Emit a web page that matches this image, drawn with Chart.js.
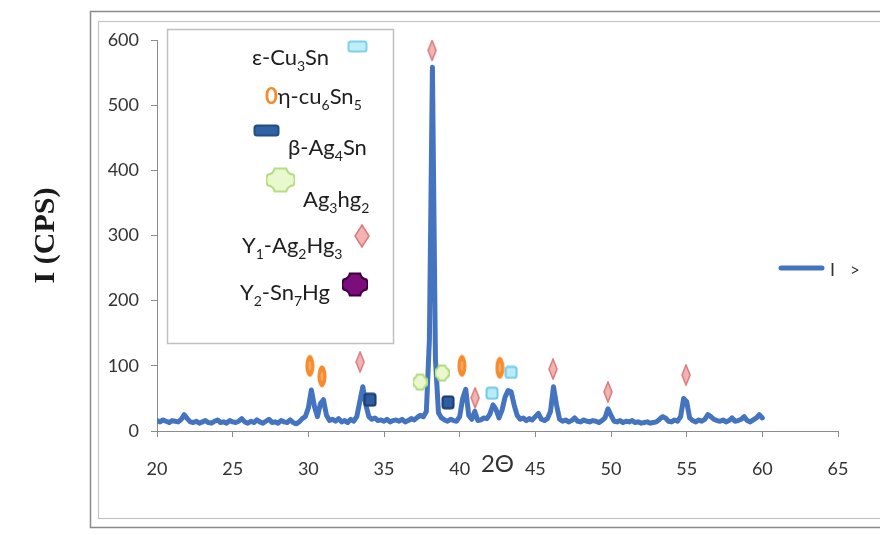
<!DOCTYPE html>
<html>
<head>
<meta charset="utf-8">
<script src="https://cdn.jsdelivr.net/npm/chart.js@4.4.1/dist/chart.umd.min.js"></script>
<style>
  html, body { margin: 0; padding: 0; background: #fff; }
  #wrap { width: 880px; height: 535px; }
</style>
</head>
<body>
<div id="wrap"><canvas id="xrd" width="880" height="535"></canvas></div>
<script>
// 2-theta positions and measured intensity (CPS)
const twoTheta = [
  20.0, 20.2, 20.4, 20.6, 20.8, 21.0, 21.2, 21.4, 21.6, 21.8,
  22.0, 22.2, 22.4, 22.6, 22.8, 23.0, 23.2, 23.4, 23.6, 23.8,
  24.0, 24.2, 24.4, 24.6, 24.8, 25.0, 25.2, 25.4, 25.6, 25.8,
  26.0, 26.2, 26.4, 26.6, 26.8, 27.0, 27.2, 27.4, 27.6, 27.8,
  28.0, 28.2, 28.4, 28.6, 28.8, 29.0, 29.2, 29.4, 29.6, 29.8,
  30.0, 30.2, 30.4, 30.6, 30.8, 31.0, 31.2, 31.4, 31.6, 31.8,
  32.0, 32.2, 32.4, 32.6, 32.8, 33.0, 33.2, 33.4, 33.6, 33.8,
  34.0, 34.2, 34.4, 34.6, 34.8, 35.0, 35.2, 35.4, 35.6, 35.8,
  36.0, 36.2, 36.4, 36.6, 36.8, 37.0, 37.2, 37.4, 37.6, 37.8,
  38.0, 38.2, 38.4, 38.6, 38.8, 39.0, 39.2, 39.4, 39.6, 39.8,
  40.0, 40.2, 40.4, 40.6, 40.8, 41.0, 41.2, 41.4, 41.6, 41.8,
  42.0, 42.2, 42.4, 42.6, 42.8, 43.0, 43.2, 43.4, 43.6, 43.8,
  44.0, 44.2, 44.4, 44.6, 44.8, 45.0, 45.2, 45.4, 45.6, 45.8,
  46.0, 46.2, 46.4, 46.6, 46.8, 47.0, 47.2, 47.4, 47.6, 47.8,
  48.0, 48.2, 48.4, 48.6, 48.8, 49.0, 49.2, 49.4, 49.6, 49.8,
  50.0, 50.2, 50.4, 50.6, 50.8, 51.0, 51.2, 51.4, 51.6, 51.8,
  52.0, 52.2, 52.4, 52.6, 52.8, 53.0, 53.2, 53.4, 53.6, 53.8,
  54.0, 54.2, 54.4, 54.6, 54.8, 55.0, 55.2, 55.4, 55.6, 55.8,
  56.0, 56.2, 56.4, 56.6, 56.8, 57.0, 57.2, 57.4, 57.6, 57.8,
  58.0, 58.2, 58.4, 58.6, 58.8, 59.0, 59.2, 59.4, 59.6, 59.8,
  60.0
];
const intensity = [
  16, 14, 17, 15, 13, 16, 15, 14, 18, 25,
  19, 14, 13, 15, 12, 14, 16, 13, 12, 15,
  17, 13, 14, 12, 16, 14, 13, 15, 19, 14,
  12, 15, 13, 17, 14, 12, 15, 18, 13, 14,
  12, 16, 14, 13, 17, 13, 11, 14, 19, 22,
  35, 63, 38, 22, 42, 48, 24, 16, 18, 15,
  19, 14, 16, 13, 18, 15, 22, 45, 68, 40,
  22, 18, 20, 16, 17, 15, 18, 14, 16, 17,
  15, 18, 14, 16, 19, 17, 21, 24, 22, 30,
  140, 558, 110, 28, 20, 17, 15, 18, 16, 15,
  22, 50, 64, 24, 18, 30, 16, 17, 20, 19,
  26, 40, 33, 20, 32, 52, 62, 60, 40, 24,
  18, 20, 16, 19, 17, 22, 27, 18, 16, 19,
  30, 68, 40, 18, 15, 17, 14, 16, 20, 15,
  14, 17, 15, 14, 16, 15, 13, 16, 20, 34,
  24, 15, 14, 16, 13, 15, 14, 16, 13, 14,
  12, 13, 14, 12, 13, 14, 18, 22, 20, 15,
  14, 17, 15, 22, 50, 45, 20, 16, 14, 17,
  15, 18, 25, 22, 18, 16, 15, 17, 14, 16,
  20, 15, 16, 18, 22, 16, 14, 17, 20, 25,
  20
];

// phase markers placed above peaks
const etaX = [30.1, 30.9, 40.15, 42.65];     // η-Cu6Sn5
const etaY = [100, 84, 100, 97];
const gamma1X = [33.42, 38.18, 41.02, 46.17, 49.8, 54.96];  // γ1-Ag2Hg3
const gamma1Y = [106, 584, 51, 95, 60, 86];
const epsX = [42.14, 43.4];                   // ε-Cu3Sn
const epsY = [58, 90];
const betaX = [34.08, 39.23];                 // β-Ag4Sn
const betaY = [48, 44];
const ag3X = [37.38, 38.84];                  // Ag3Hg2
const ag3Y = [75, 89];

const xTicks = [20, 25, 30, 35, 40, 45, 50, 55, 60, 65];
const yTicks = [0, 100, 200, 300, 400, 500, 600];

const FONT = 'Lato, "Open Sans", sans-serif';
const LINE_BLUE = '#4474c0';

function zip(xs, ys) {
  return xs.map((x, i) => ({ x: x, y: ys[i] }));
}

// little canvases used as point styles
function makeSymbol(w, h, drawFn) {
  const c = document.createElement('canvas');
  c.width = w;
  c.height = h;
  drawFn(c.getContext('2d'), w, h);
  return c;
}

function ellipseSym(w, h) {
  return makeSymbol(w, h, (g, W, H) => {
    g.beginPath();
    g.ellipse(W / 2, H / 2, W / 2 - 0.5, H / 2 - 0.5, 0, 0, Math.PI * 2);
    g.fillStyle = '#f58b2c';
    g.fill();
    g.beginPath();
    g.ellipse(W / 2, H / 2, W / 7, H / 5, 0, 0, Math.PI * 2);
    g.fillStyle = '#f9a862';
    g.fill();
  });
}

function diamondSym(w, h) {
  return makeSymbol(w, h, (g, W, H) => {
    g.beginPath();
    g.moveTo(W / 2, 1);
    g.lineTo(W - 1, H / 2);
    g.lineTo(W / 2, H - 1);
    g.lineTo(1, H / 2);
    g.closePath();
    g.fillStyle = '#f4b3b3';
    g.fill();
    g.lineWidth = 1.5;
    g.strokeStyle = '#d87b7b';
    g.stroke();
  });
}

function boxSym(w, h, fill, stroke) {
  return makeSymbol(w, h, (g, W, H) => {
    g.beginPath();
    g.roundRect(1.5, 1.5, W - 3, H - 3, 2.5);
    g.fillStyle = fill;
    g.fill();
    g.lineWidth = 2;
    g.strokeStyle = stroke;
    g.stroke();
  });
}

function crossSym(w, h, fill, stroke) {
  return makeSymbol(w, h, (g, W, H) => {
    const a = W * 0.3, b = H * 0.3;
    g.beginPath();
    g.moveTo(a, 1.5);
    g.lineTo(W - a, 1.5);
    g.quadraticCurveTo(W - a + 1, b - 1, W - 1.5, b);
    g.quadraticCurveTo(W + 1, H / 2, W - 1.5, H - b);
    g.quadraticCurveTo(W - a + 1, H - b + 1, W - a, H - 1.5);
    g.lineTo(a, H - 1.5);
    g.quadraticCurveTo(a - 1, H - b + 1, 1.5, H - b);
    g.quadraticCurveTo(-1, H / 2, 1.5, b);
    g.quadraticCurveTo(a - 1, b - 1, a, 1.5);
    g.closePath();
    g.fillStyle = fill;
    g.fill();
    g.lineWidth = 2;
    g.strokeStyle = stroke;
    g.stroke();
  });
}

const symEta = ellipseSym(10, 23);
const symGamma1 = diamondSym(10, 22);
const symEps = boxSym(14, 14, '#b9ecf8', '#72cbe6');
const symBeta = boxSym(14, 15, '#2d5e9f', '#1e3c6a');
const symAg3 = crossSym(15, 18, '#e9f8cd', '#aedc7c');

// rich text helpers for the phase key (subscripts)
const MAIN_FONT = '22px ' + FONT;
const SUB_FONT = '14px ' + FONT;

function drawRich(ctx, parts, x, y) {
  for (const [t, sub, color, font] of parts) {
    ctx.font = font || (sub ? SUB_FONT : MAIN_FONT);
    ctx.fillStyle = color || '#1e1e1e';
    ctx.fillText(t, x, sub ? y + 6 : y);
    x += ctx.measureText(t).width;
  }
}

const decor = {
  id: 'decor',
  beforeDraw(chart) {
    const ctx = chart.ctx;
    ctx.save();
    ctx.fillStyle = '#fff';
    ctx.fillRect(0, 0, chart.width, chart.height);
    // double frame around the figure
    ctx.strokeStyle = '#8a8a8a';
    ctx.lineWidth = 1.5;
    ctx.strokeRect(90.5, 11.5, 820, 516);
    ctx.strokeStyle = '#c4c4c4';
    ctx.lineWidth = 1.2;
    ctx.strokeRect(98.5, 21.5, 800, 497);
    ctx.restore();
  },
  afterDraw(chart) {
    const ctx = chart.ctx;
    ctx.save();
    // phase key box
    ctx.fillStyle = '#fff';
    ctx.fillRect(167, 29, 226, 314);
    ctx.strokeStyle = '#c0c0c0';
    ctx.lineWidth = 1.5;
    ctx.strokeRect(167.5, 29.5, 226, 314);
    ctx.textBaseline = 'alphabetic';
    ctx.textAlign = 'left';

    drawRich(ctx, [['ε-Cu'], ['3', true], ['Sn']], 252, 65);
    ctx.drawImage(boxSym(21, 13, '#bdeefa', '#7fd0e8'), 347, 40);

    drawRich(ctx, [['0', false, '#f58b2c', 'bold 22px ' + FONT], ['η-cu'], ['6', true], ['Sn'], ['5', true]], 265, 104);

    ctx.drawImage(boxSym(27, 13, '#2f63a6', '#244d86'), 253, 124);
    drawRich(ctx, [['β-Ag'], ['4', true], ['Sn']], 288, 155);

    ctx.drawImage(crossSym(29, 26, '#e9f8cd', '#b4de84'), 266, 167);
    drawRich(ctx, [['Ag'], ['3', true], ['hg'], ['2', true]], 303, 207);

    ctx.drawImage(diamondSym(16, 24), 354, 224);
    drawRich(ctx, [['Y'], ['1', true], ['-Ag'], ['2', true], ['Hg'], ['3', true]], 242, 253);

    ctx.drawImage(crossSym(26, 25, '#7c0e7c', '#3d003d'), 342, 272);
    drawRich(ctx, [['Y'], ['2', true], ['-Sn'], ['7', true], ['Hg']], 240, 300);

    // series key on the right
    ctx.strokeStyle = LINE_BLUE;
    ctx.lineWidth = 5;
    ctx.lineCap = 'round';
    ctx.beginPath();
    ctx.moveTo(781, 268);
    ctx.lineTo(822, 268);
    ctx.stroke();
    ctx.fillStyle = '#333';
    ctx.font = '18px ' + FONT;
    ctx.textBaseline = 'middle';
    ctx.fillText('I', 830, 270);
    ctx.font = '17px ' + FONT;
    ctx.fillText('>', 850, 271);
    ctx.restore();
  }
};

const markerSet = (label, xs, ys, sym) => ({
  label: label,
  data: zip(xs, ys),
  showLine: false,
  pointStyle: sym,
  pointRadius: 8,
  order: 0,
});

new Chart(document.getElementById('xrd'), {
  type: 'line',
  data: {
    datasets: [
      markerSet('η-Cu6Sn5', etaX, etaY, symEta),
      markerSet('γ1-Ag2Hg3', gamma1X, gamma1Y, symGamma1),
      markerSet('ε-Cu3Sn', epsX, epsY, symEps),
      markerSet('β-Ag4Sn', betaX, betaY, symBeta),
      markerSet('Ag3Hg2', ag3X, ag3Y, symAg3),
      {
        label: 'I',
        data: zip(twoTheta, intensity),
        borderColor: LINE_BLUE,
        backgroundColor: LINE_BLUE,
        borderWidth: 5,
        borderJoinStyle: 'round',
        borderCapStyle: 'round',
        pointRadius: 0,
        tension: 0,
        fill: false,
        order: 1,
      },
    ],
  },
  options: {
    responsive: false,
    animation: false,
    layout: { padding: { left: 0, right: 42, top: 40, bottom: 0 } },
    plugins: {
      legend: { display: false },
      tooltip: { enabled: false },
    },
    scales: {
      x: {
        type: 'linear',
        min: 20,
        max: 65,
        afterBuildTicks: (s) => { s.ticks = xTicks.map((v) => ({ value: v })); },
        afterFit: (s) => { s.height = 104; },
        border: { display: true, color: '#8c8c8c', width: 1 },
        grid: { display: true, drawOnChartArea: false, drawTicks: true, tickLength: 6, color: '#8c8c8c' },
        ticks: { color: '#333', font: { family: FONT, size: 18 }, padding: 21, maxRotation: 0 },
        title: {
          display: true,
          text: '2Θ',
          color: '#333',
          font: { family: FONT, size: 24 },
          padding: { top: 0, bottom: 56 },
        },
      },
      y: {
        min: 0,
        max: 600,
        afterBuildTicks: (s) => { s.ticks = yTicks.map((v) => ({ value: v })); },
        afterFit: (s) => { s.width = 157; },
        border: { display: true, color: '#8c8c8c', width: 1 },
        grid: { display: true, drawOnChartArea: false, drawTicks: true, tickLength: 6, color: '#8c8c8c' },
        ticks: { color: '#333', font: { family: FONT, size: 18 }, padding: 12 },
        title: {
          display: true,
          text: 'I (CPS)',
          color: '#1a1a1a',
          font: { family: '"Liberation Serif", "Times New Roman", serif', size: 30, weight: 'bold' },
          padding: { top: 28, bottom: 0 },
        },
      },
    },
  },
  plugins: [decor],
});
</script>
</body>
</html>
